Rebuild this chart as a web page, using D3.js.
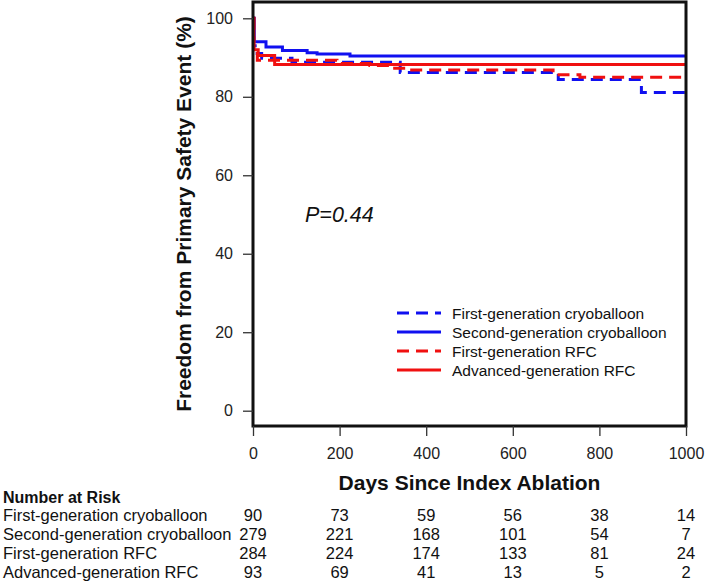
<!DOCTYPE html>
<html>
<head>
<meta charset="utf-8">
<script src="https://cdn.jsdelivr.net/npm/d3@7"></script>
<style>
  html, body { margin: 0; padding: 0; background: #fff; }
  svg { display: block; font-family: Arial, "Liberation Sans", sans-serif; }
</style>
</head>
<body>
<svg id="chart" width="709" height="583"></svg>
<script>
// ---------- data ----------
const xTicks = [0, 200, 400, 600, 800, 1000];
const yTicks = [0, 20, 40, 60, 80, 100];
const seriesNames = ["First-generation cryoballoon", "Second-generation cryoballoon", "First-generation RFC", "Advanced-generation RFC"];
const seriesColors = ["#1010f0", "#1010f0", "#f01010", "#f01010"];
const seriesDashed = [true, false, true, false];

const fgCryoDays = [0, 1, 5, 20, 90, 340, 705, 897, 1000];
const fgCryoSurv = [100, 93, 91, 89.8, 88.8, 86.2, 84.4, 81.1, 81.1];
const sgCryoDays = [0, 3, 30, 68, 125, 148, 224, 1000];
const sgCryoSurv = [100, 94, 92.7, 91.8, 91.2, 90.9, 90.4, 90.4];
const fgRfcDays = [0, 2, 10, 194, 270, 323, 363, 693, 755, 1000];
const fgRfcSurv = [100, 92, 89.3, 88.5, 88.0, 87.3, 86.8, 85.6, 85.0, 85.0];
const agRfcDays = [0, 2, 12, 50, 1000];
const agRfcSurv = [100, 92, 90.5, 88.2, 88.2];

const riskDays = [0, 200, 400, 600, 800, 1000];
const riskFgCryo = [90, 73, 59, 56, 38, 14];
const riskSgCryo = [279, 221, 168, 101, 54, 7];
const riskFgRfc = [284, 224, 174, 133, 81, 24];
const riskAgRfc = [93, 69, 41, 13, 5, 2];

const pValueText = "P=0.44";

// ---------- build ----------
const series = [
  d3.zip(fgCryoDays, fgCryoSurv),
  d3.zip(sgCryoDays, sgCryoSurv),
  d3.zip(fgRfcDays, fgRfcSurv),
  d3.zip(agRfcDays, agRfcSurv)
];
const riskRows = [riskFgCryo, riskSgCryo, riskFgRfc, riskAgRfc];

const svg = d3.select("#chart");
const L = 253, R = 686, T = 2, B = 426;
const x = d3.scaleLinear().domain([0, 1000]).range([L, R]);
const y = d3.scaleLinear().domain([0, 100]).range([410.7, 18.3]);

svg.append("defs").append("clipPath").attr("id", "clip")
  .append("rect").attr("x", L).attr("y", T).attr("width", R - L).attr("height", B - T);

// curves
const line = d3.line().x(d => x(d[0])).y(d => y(d[1])).curve(d3.curveStepAfter);
const gCurves = svg.append("g").attr("clip-path", "url(#clip)");
series.forEach((s, i) => {
  gCurves.append("path")
    .attr("d", line(s))
    .attr("fill", "none")
    .attr("stroke", seriesColors[i])
    .attr("stroke-width", 3)
    .attr("stroke-dasharray", seriesDashed[i] ? "12,7" : null);
});

// frame
svg.append("rect").attr("x", L).attr("y", T).attr("width", R - L).attr("height", B - T)
  .attr("fill", "none").attr("stroke", "#111").attr("stroke-width", 3);

// y axis
const yAxis = d3.axisLeft(y).tickValues(yTicks).tickFormat(d3.format("d")).tickSize(10).tickPadding(10);
const gy = svg.append("g").attr("transform", `translate(${L},0)`).call(yAxis);
gy.select(".domain").remove();
gy.selectAll(".tick line").attr("stroke", "#333").attr("stroke-width", 1.3);
gy.selectAll(".tick text").attr("font-size", 16).attr("fill", "#222")
  .attr("font-family", "Arial, 'Liberation Sans', sans-serif");

// x axis
const xAxis = d3.axisBottom(x).tickValues(xTicks).tickFormat(d3.format("d")).tickSize(10).tickPadding(12);
const gx = svg.append("g").attr("transform", `translate(0,${B})`).call(xAxis);
gx.select(".domain").remove();
gx.selectAll(".tick line").attr("stroke", "#333").attr("stroke-width", 1.3);
gx.selectAll(".tick text").attr("font-size", 16).attr("fill", "#222")
  .attr("font-family", "Arial, 'Liberation Sans', sans-serif");

// axis titles
svg.append("text")
  .attr("transform", `translate(191,${(T + B) / 2}) rotate(-90)`)
  .attr("text-anchor", "middle")
  .attr("font-size", 21).attr("font-weight", "bold").attr("fill", "#111")
  .text("Freedom from Primary Safety Event (%)");
svg.append("text")
  .attr("x", (L + R) / 2).attr("y", 490)
  .attr("text-anchor", "middle")
  .attr("font-size", 21).attr("font-weight", "bold").attr("fill", "#111")
  .text("Days Since Index Ablation");

// p value
svg.append("text").attr("x", 305).attr("y", 222)
  .attr("font-size", 21.5).attr("font-style", "italic").attr("fill", "#111")
  .text(pValueText);

// legend
const legY = [313, 332, 351, 370];
seriesNames.forEach((name, i) => {
  svg.append("line").attr("x1", 397).attr("x2", 441).attr("y1", legY[i]).attr("y2", legY[i])
    .attr("stroke", seriesColors[i]).attr("stroke-width", 3)
    .attr("stroke-dasharray", seriesDashed[i] ? "12,7" : null);
  svg.append("text").attr("x", 452).attr("y", legY[i] + 5.5)
    .attr("font-size", 15.5).attr("fill", "#111").text(name);
});

// number at risk
svg.append("text").attr("x", 3).attr("y", 503)
  .attr("font-size", 16).attr("font-weight", "bold").attr("fill", "#111")
  .text("Number at Risk");
const rowY = [515, 534, 553, 572];
riskRows.forEach((row, i) => {
  svg.append("text").attr("x", 3).attr("y", rowY[i] + 6)
    .attr("font-size", 16.5).attr("fill", "#111").text(seriesNames[i]);
  row.forEach((v, j) => {
    svg.append("text").attr("x", x(riskDays[j])).attr("y", rowY[i] + 6)
      .attr("text-anchor", "middle")
      .attr("font-size", 16.5).attr("fill", "#111").text(v);
  });
});
</script>
</body>
</html>
